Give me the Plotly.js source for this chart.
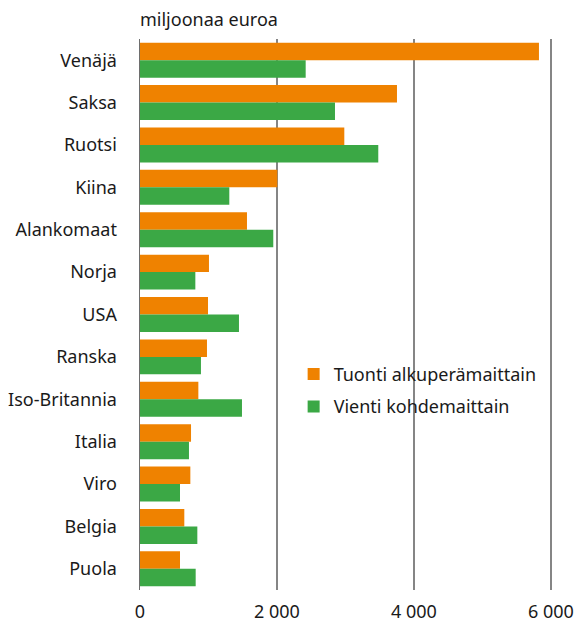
<!DOCTYPE html>
<html>
<head>
<meta charset="utf-8">
<script src="https://cdn.plot.ly/plotly-3.0.1.min.js"></script>
<style>html,body{margin:0;padding:0;background:#fff;}#chart{width:579px;height:622px;}</style>
</head>
<body>
<div id="chart"></div>
<script>
const categories = ["Venäjä","Saksa","Ruotsi","Kiina","Alankomaat","Norja","USA","Ranska","Iso-Britannia","Italia","Viro","Belgia","Puola"];
const tuonti = [5825,3752,2983,2005,1562,1007,993,978,852,745,735,647,584];
const vienti = [2419,2847,3479,1304,1946,808,1445,890,1489,715,584,837,813];
const seriesNames = ["Tuonti alkuperämaittain","Vienti kohdemaittain"];
const xTickVals = [0,2000,4000,6000];
const xTickText = ["0","2 000","4 000","6 000"];

const font = "'Noto Sans', 'Open Sans', sans-serif";
const traces = [
  {type:'bar', orientation:'h', name:seriesNames[0], legendgroup:'a', y:categories, x:tuonti,
   marker:{color:'#EF8200'}, hoverinfo:'skip'},
  {type:'bar', orientation:'h', name:seriesNames[1], legendgroup:'b', y:categories, x:vienti,
   marker:{color:'#3BA845'}, hoverinfo:'skip'}
];
const layout = {
  width:579, height:622,
  margin:{l:140, r:26, t:39, b:32},
  paper_bgcolor:'#fff', plot_bgcolor:'#fff',
  font:{family:font, size:18, color:'#1a1a1a'},
  barmode:'group', bargap:0.175, bargroupgap:0,
  title:{text:'miljoonaa euroa', x:0, xref:'paper', xanchor:'left', y:1-20/622, yref:'container', yanchor:'middle',
         font:{family:font, size:18, color:'#1a1a1a'}},
  xaxis:{range:[0,6030], tickvals:xTickVals, ticktext:xTickText, showgrid:true, gridcolor:'#858585', gridwidth:1.5,
         zeroline:false, showline:false, ticks:'', ticklabelstandoff:9, fixedrange:true,
         tickfont:{size:18}},
  yaxis:{autorange:'reversed', type:'category', showgrid:false, ticks:'', showline:true, linecolor:'#6e6e6e', linewidth:1.5,
         ticklabelstandoff:18, tickfont:{size:18}},
  legend:{x:0.372, y:0.425, xanchor:'left', yanchor:'top', bgcolor:'rgba(0,0,0,0)', font:{size:18},
          traceorder:'grouped', tracegroupgap:6},
  showlegend:true
};
Plotly.newPlot('chart', traces, layout, {displayModeBar:false, staticPlot:true});
</script>
</body>
</html>
